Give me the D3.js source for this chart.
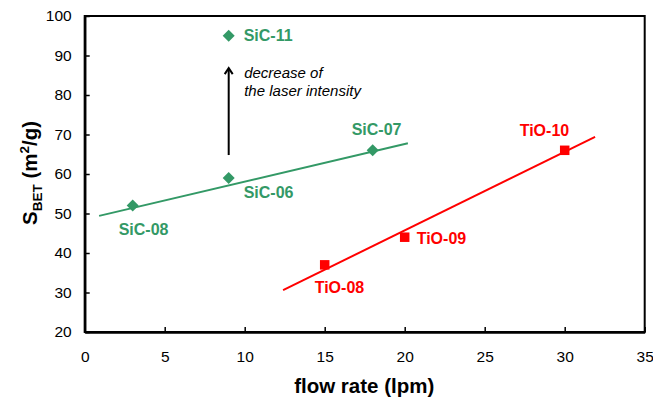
<!DOCTYPE html>
<html>
<head>
<meta charset="utf-8">
<script src="https://cdn.jsdelivr.net/npm/d3@7"></script>
<style>
  body { margin: 0; background: #fff; }
  svg { display: block; font-family: "Liberation Sans", Arial, sans-serif; }
</style>
</head>
<body>
<svg id="chart" width="653" height="401"></svg>
<script>
// ---- data ----
const sicNames = ["SiC-08", "SiC-06", "SiC-07", "SiC-11"];
const sicFlow = [3, 9, 18, 9];
const sicSbet = [52, 59, 66, 95];
const sicTrendFlow = [0.9, 20.2];
const sicTrendSbet = [49.4, 67.8];

const tioNames = ["TiO-08", "TiO-09", "TiO-10"];
const tioFlow = [15, 20, 30];
const tioSbet = [37, 44, 66];
const tioTrendFlow = [12.4, 31.9];
const tioTrendSbet = [30.6, 69.4];

const arrowFlow = [9, 9];
const arrowSbet = [64.8, 86.8];
const noteLines = ["decrease of", "the laser intensity"];

const xTicks = [0, 5, 10, 15, 20, 25, 30, 35];
const yTicks = [20, 30, 40, 50, 60, 70, 80, 90, 100];

// ---- layout ----
const green = "#339966", red = "#ff0000";
const svg = d3.select("#chart");
const x = d3.scaleLinear().domain([0, 35]).range([84.7, 644.7]);
const y = d3.scaleLinear().domain([20, 100]).range([332, 16]);

// label offsets (px) relative to the marker
const labelOffset = {
  "SiC-08": [-14, 29], "SiC-06": [15, 20], "SiC-07": [-21, -15], "SiC-11": [15, 5],
  "TiO-10": [-45, -14.6], "TiO-09": [12, 6.3], "TiO-08": [-10, 28]
};

// frame
svg.append("rect")
  .attr("x", x(0)).attr("y", y(100))
  .attr("width", x(35) - x(0)).attr("height", y(20) - y(100))
  .attr("fill", "none").attr("stroke", "#000").attr("stroke-width", 2);

// axes
const xAxis = svg.append("g").attr("transform", `translate(0,${y(20)})`)
  .call(d3.axisBottom(x).tickValues(xTicks).tickSizeInner(-5).tickSizeOuter(0).tickPadding(19));
const yAxis = svg.append("g").attr("transform", `translate(${x(0)},0)`)
  .call(d3.axisLeft(y).tickValues(yTicks).tickSizeInner(-5).tickSizeOuter(0).tickPadding(13));
[xAxis, yAxis].forEach(g => {
  g.select(".domain").attr("stroke-width", 2.5);
  g.selectAll(".tick line").attr("stroke-width", 1.5);
  g.selectAll(".tick text").attr("font-size", 15.5).attr("fill", "#000")
    .attr("font-family", "Liberation Sans, Arial, sans-serif");
});

// axis titles
svg.append("text")
  .attr("x", (x(0) + x(35)) / 2 - 0.5).attr("y", 393)
  .attr("text-anchor", "middle").attr("font-weight", "bold").attr("font-size", 20.5)
  .text("flow rate (lpm)");

const yt = svg.append("text")
  .attr("transform", "translate(37,173) rotate(-90)")
  .attr("text-anchor", "middle").attr("font-weight", "bold").attr("font-size", 20.5);
yt.append("tspan").text("S");
yt.append("tspan").attr("font-size", 13.5).attr("dy", 5).text("BET");
yt.append("tspan").attr("dy", -5).text(" (m");
yt.append("tspan").attr("font-size", 13.5).attr("dy", -8).text("2");
yt.append("tspan").attr("dy", 8).text("/g)");

// trend lines
const line = d3.line().x(d => x(d[0])).y(d => y(d[1]));
svg.append("path").datum(d3.zip(sicTrendFlow, sicTrendSbet))
  .attr("d", line).attr("fill", "none").attr("stroke", green).attr("stroke-width", 2);
svg.append("path").datum(d3.zip(tioTrendFlow, tioTrendSbet))
  .attr("d", line).attr("fill", "none").attr("stroke", red).attr("stroke-width", 2);

// markers
const sic = sicNames.map((n, i) => ({ n, fx: sicFlow[i], s: sicSbet[i] }));
const tio = tioNames.map((n, i) => ({ n, fx: tioFlow[i], s: tioSbet[i] }));

svg.selectAll(".sic").data(sic).enter().append("path")
  .attr("transform", d => `translate(${x(d.fx)},${y(d.s)})`)
  .attr("d", "M0,-6L6,0L0,6L-6,0Z").attr("fill", green);
svg.selectAll(".tio").data(tio).enter().append("rect")
  .attr("x", d => x(d.fx) - 4.75).attr("y", d => y(d.s) - 4.75)
  .attr("width", 9.5).attr("height", 9.5).attr("fill", red);

// point labels
svg.selectAll(".sicl").data(sic).enter().append("text")
  .attr("x", d => x(d.fx) + labelOffset[d.n][0]).attr("y", d => y(d.s) + labelOffset[d.n][1])
  .attr("fill", green).attr("font-weight", "bold").attr("font-size", 16).text(d => d.n);
svg.selectAll(".tiol").data(tio).enter().append("text")
  .attr("x", d => x(d.fx) + labelOffset[d.n][0]).attr("y", d => y(d.s) + labelOffset[d.n][1])
  .attr("fill", red).attr("font-weight", "bold").attr("font-size", 16).text(d => d.n);

// arrow
svg.append("line")
  .attr("x1", x(arrowFlow[0])).attr("y1", y(arrowSbet[0]))
  .attr("x2", x(arrowFlow[1])).attr("y2", y(arrowSbet[1]) + 1)
  .attr("stroke", "#000").attr("stroke-width", 2);
svg.append("path")
  .attr("transform", `translate(${x(arrowFlow[1])},${y(arrowSbet[1])})`)
  .attr("d", "M-4,6L0,0L4,6").attr("fill", "none").attr("stroke", "#000").attr("stroke-width", 2);

// note
svg.append("text").attr("x", x(arrowFlow[1]) + 15.5).attr("y", 78.3)
  .attr("font-style", "italic").attr("font-size", 15).attr("fill", "#000")
  .selectAll("tspan").data(noteLines).enter().append("tspan")
  .attr("x", x(arrowFlow[1]) + 15.5).attr("dy", (d, i) => i === 0 ? 0 : 17.4).text(d => d);
</script>
</body>
</html>
